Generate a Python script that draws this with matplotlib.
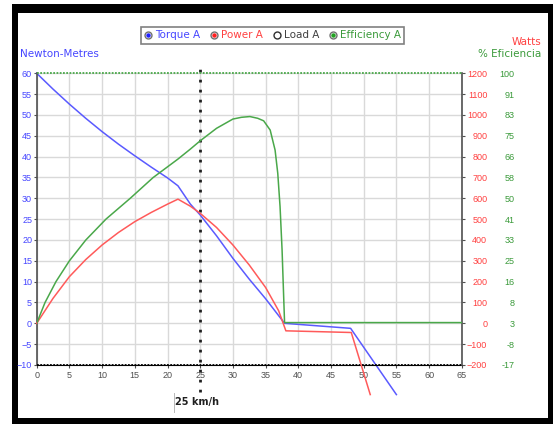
import matplotlib
import matplotlib.pyplot as plt
from matplotlib.lines import Line2D
from matplotlib.patches import Rectangle
from matplotlib.transforms import blended_transform_factory

matplotlib.rc('font', family='DejaVu Sans', size=7.5)

# data (x = speed in km/h)
torque_speed = [0, 2.5, 5, 7.5, 10, 12.5, 15, 17.5, 20, 21.6, 23.5, 25, 27.5, 30,
                32.5, 35, 37.9, 48.0, 55.0]
torque_nm = [60, 56.2, 52.6, 49.2, 46.0, 43.0, 40.2, 37.5, 34.9, 33.0, 28.6, 26.0,
             21.0, 15.6, 10.6, 5.9, 0, -1.2, -17.1]

power_speed = [0, 2.5, 5, 7.5, 10, 12.5, 15, 17.5, 20, 21.6, 23.5, 25, 27.5, 30,
               32.5, 35, 37, 38.1, 48.1, 51.0]
power_w = [0, 120, 224, 306, 376, 436, 488, 532, 572, 596, 562, 528, 460, 376,
           280, 172, 60, -36, -44, -342]

eff_speed = [0, 1.27, 2.95, 5.0, 7.5, 10.6, 14.3, 17.8, 21.6, 23.5, 25, 27.5, 30,
             31.3, 32.6, 33.8, 34.7, 35.7, 36.45, 36.86, 37.21, 37.52, 37.78, 37.9, 65]
eff_pct = [0, 8.3, 16.7, 25.0, 33.3, 41.7, 50.0, 58.3, 65.7, 69.7, 73.0, 78.0, 81.7,
           82.4, 82.7, 82.0, 81.0, 77.3, 69.3, 60.0, 46.7, 29.3, 9.3, 0.3, 0.3]

eff_max_speed = [0, 65]
eff_max = [100, 100]

torque_ticks = list(range(-10, 61, 5))
power_ticks = list(range(-200, 1201, 100))
eff_labels = ['-17', '-8', '3', '8', '16', '25', '33', '41', '50', '58', '66',
              '75', '83', '91', '100']
speed_ticks = list(range(0, 66, 5))
marker_speed = 25

blue = '#5a5aff'
red = '#ff5a5a'
green = '#4aa84a'
blue_txt = '#4646ff'
red_txt = '#ff4040'
green_txt = '#3a9a3a'
tick_font = ['Liberation Sans Narrow', 'Liberation Sans', 'DejaVu Sans']

W, H = 553, 424
fig = plt.figure(figsize=(W / 100, H / 100), dpi=100)
fig.patch.set_facecolor('white')
fig.patches.append(Rectangle((12 / W, 0), 1 - 12 / W, 420 / H, transform=fig.transFigure,
                             facecolor='black', edgecolor='none', zorder=-3))
fig.patches.append(Rectangle((18 / W, 6 / H), 530 / W, 405 / H, transform=fig.transFigure,
                             facecolor='white', edgecolor='none', zorder=-2))

ax = fig.add_axes([36.7 / W, 1 - 365 / H, 425.1 / W, 291.7 / H])
ax.set_facecolor('none')
ax2 = ax.twinx()
ax3 = ax.twinx()

ax.set_xlim(0, 65)
ax.set_ylim(-10, 60)
ax2.set_ylim(-200, 1200)
ax3.set_ylim(-200 / 12, 100)

ax.grid(True, color='#d9d9d9', lw=1.0)
ax.set_axisbelow(True)

ax.plot(torque_speed, torque_nm, color=blue, lw=1.1, clip_on=False)
ax2.plot(power_speed, power_w, color=red, lw=1.1, clip_on=False)
ax3.plot(eff_speed, eff_pct, color=green, lw=1.1)
ax3.plot(eff_max_speed, eff_max, color=green, lw=1.3, ls=(0, (1, 0.8)), clip_on=False)
ax.axhline(-10, color='black', lw=1.3, ls=(0, (1, 0.8)), clip_on=False, zorder=5)

ax.axvline(marker_speed, ymin=-0.093, ymax=1.039, color='#202020', lw=2.0,
           ls=(0, (1, 2.6)), clip_on=False, zorder=6)
tr = blended_transform_factory(ax.transData, ax.transAxes)
ax.text(21.2, -0.128, '25 km/h', transform=tr, ha='left', va='center',
        fontsize=7, fontweight='bold', color='#202020')
ax.plot([21.0, 21.0], [-0.161, -0.096], transform=tr, color='#b8b8b8', lw=0.7,
        clip_on=False)

# axes styling
for s in ['top', 'right']:
    ax.spines[s].set_visible(False)
for s in ['top', 'left', 'bottom']:
    ax2.spines[s].set_visible(False)
    ax3.spines[s].set_visible(False)
ax3.spines['right'].set_visible(False)
ax.spines['left'].set_color('#505050')
ax.spines['left'].set_linewidth(1.2)
ax.spines['bottom'].set_color('black')
ax2.spines['right'].set_color('#505050')
ax2.spines['right'].set_linewidth(1.2)

ax.set_xticks(speed_ticks)
ax.set_yticks(torque_ticks)
ax2.set_yticks(power_ticks)
ax3.set_yticks([p / 12 for p in power_ticks])
ax3.set_yticklabels(eff_labels)

ax.tick_params(axis='x', length=2.5, pad=1.5, colors='#505050', labelsize=6.5)
ax.tick_params(axis='y', length=2.5, pad=0.8, color='#505050', labelcolor=blue_txt,
               labelsize=6.5)
ax2.tick_params(axis='y', length=2.5, pad=15.8, color='#505050', labelcolor=red_txt,
                labelsize=6.5)
ax3.tick_params(axis='y', length=0, pad=37.9, labelcolor=green_txt, labelsize=6.5)
for lab in ax2.get_yticklabels() + ax3.get_yticklabels():
    lab.set_horizontalalignment('right')
for lab in (ax.get_xticklabels() + ax.get_yticklabels() + ax2.get_yticklabels()
            + ax3.get_yticklabels()):
    lab.set_family(tick_font)

# axis titles
fig.text(20 / W, 1 - 54 / H, 'Newton-Metres', color=blue_txt, ha='left', va='center')
fig.text(541 / W, 1 - 42 / H, 'Watts', color=red_txt, ha='right', va='center')
fig.text(541 / W, 1 - 54 / H, '% Eficiencia', color=green_txt, ha='right', va='center')

# legend with radio-button style markers
def radio(color):
    ring = Line2D([], [], ls='none', marker='o', ms=5, mfc='white', mec='#707070', mew=1)
    if color is None:
        ring.set_markeredgecolor('#303030')
        return ring
    dot = Line2D([], [], ls='none', marker='o', ms=2.2, mfc=color, mec=color)
    return (ring, dot)

handles = [radio('#2020ff'), radio('#ff2020'), radio(None), radio('#20a020')]
labels = ['Torque A', 'Power A', 'Load A', 'Efficiency A']
leg = fig.legend(handles, labels, loc='center', bbox_to_anchor=(272.5 / W, 1 - 35.5 / H),
                 ncol=4, fontsize=7.5, frameon=True, fancybox=False, handlelength=0.8,
                 handletextpad=0.3, columnspacing=0.9, borderpad=0.3,
                 labelcolor=[blue_txt, red_txt, '#404040', green_txt])
leg.get_frame().set_edgecolor('#606060')
leg.get_frame().set_linewidth(1.2)

plt.savefig('out.png', dpi=100)
plt.close(fig)
